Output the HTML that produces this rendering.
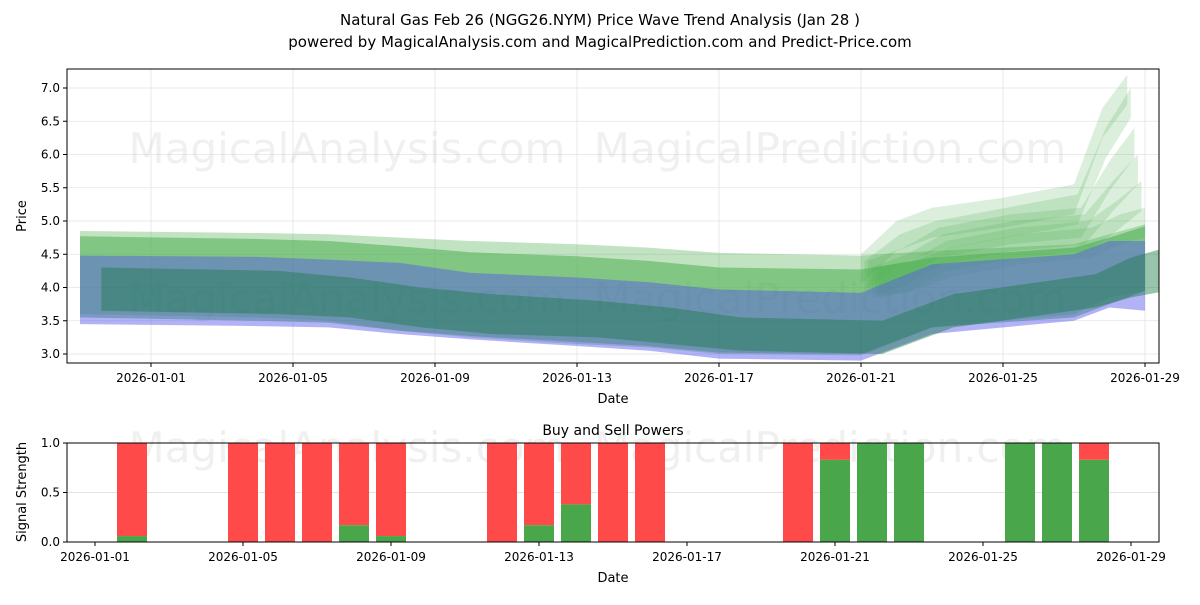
<!DOCTYPE html>
<html><head><meta charset="utf-8"><style>
body{margin:0;background:#fff;font-family:"Liberation Sans","DejaVu Sans",sans-serif}
svg text{font-family:"DejaVu Sans","Liberation Sans",sans-serif}
</style></head><body>
<svg id="c" width="1200" height="600" xmlns="http://www.w3.org/2000/svg">
<defs><clipPath id="plotclip"><rect x="67" y="69" width="1092" height="294"/></clipPath></defs>
<rect width="1200" height="600" fill="#fff"/>
<text x="600" y="25" font-size="15" text-anchor="middle">Natural Gas Feb 26 (NGG26.NYM) Price Wave Trend Analysis (Jan 28 )</text>
<text x="600" y="47" font-size="15" text-anchor="middle">powered by MagicalAnalysis.com and MagicalPrediction.com and Predict-Price.com</text>
<g id="topg"></g><g id="bandg" clip-path="url(#plotclip)"></g><g id="frameg"></g><g id="botg"></g>
</svg>
<script>
// ---- data (day offsets from 2026-01-01) ----
const xTickDays=[0,4,8,12,16,20,24,28];
const xTickLabels=["2026-01-01","2026-01-05","2026-01-09","2026-01-13","2026-01-17","2026-01-21","2026-01-25","2026-01-29"];
const yTicks=[3.0,3.5,4.0,4.5,5.0,5.5,6.0,6.5,7.0];
const bandDays=[-2,3,5,7,9,12,14,16,20,22,26,27,28];
const lightGreenUpper=[4.85,4.82,4.8,4.75,4.7,4.65,4.6,4.52,4.48,4.55,4.65,4.8,4.95];
const lightGreenLower=[3.6,3.55,3.5,3.35,3.25,3.15,3.1,3.0,2.98,3.4,3.6,3.85,3.95];
const greenUpper=[4.77,4.73,4.7,4.62,4.53,4.47,4.4,4.3,4.27,4.45,4.6,4.75,4.92];
const greenLower=[3.55,3.5,3.47,3.35,3.27,3.18,3.12,3.02,3.0,3.4,3.55,3.75,3.95];
const blueUpper=[4.48,4.46,4.42,4.37,4.22,4.15,4.08,3.97,3.92,4.35,4.5,4.7,4.7];
const blueLower=[3.45,3.42,3.4,3.3,3.22,3.12,3.05,2.93,2.9,3.3,3.5,3.7,3.65];
const darkUpper=[4.3,4.25,4.15,4.0,3.9,3.8,3.7,3.55,3.5,3.9,4.2,4.45,4.6];
const darkLower=[3.65,3.6,3.55,3.4,3.3,3.25,3.15,3.05,3.0,3.4,3.7,3.85,3.95];
const spikeDays=[20,21,22,24,26,26.8,27.5];
const spikeTops=[[4.5,5.0,5.2,5.35,5.55,6.7,7.2],[4.4,4.8,5.0,5.2,5.4,6.4,7.0],[4.4,4.6,4.9,5.1,5.2,5.9,6.4],[4.3,4.5,4.8,5.0,5.1,5.6,6.0],[4.3,4.4,4.7,4.9,5.0,5.3,5.6],[4.3,4.4,4.6,4.8,4.9,5.1,5.2]];
const barDays=[1,4,5,6,7,8,11,12,13,14,15,19,20,21,22,25,26,27];
const buyPower=[0.06,0,0,0,0.17,0.06,0,0.17,0.38,0,0,0,0.83,1,1,1,1,0.83];
// ---- axes ----
const tx=d=>151+d*35.5, ty=v=>354-(v-3)*66.5;
const bx=d=>95+d*37, by=v=>542-v*99;
const NS="http://www.w3.org/2000/svg";
function mk(p,tag,at){const e=document.createElementNS(NS,tag);for(const k in at)e.setAttribute(k,at[k]);p.appendChild(e);return e;}
const topG=document.getElementById('topg'), bandG=document.getElementById('bandg'), frameG=document.getElementById('frameg'), botG=document.getElementById('botg');
xTickDays.forEach((d,i)=>{
 const l=mk(topG,'line',{x1:tx(d),x2:tx(d),y1:69,y2:363,stroke:'#e3e3e3','stroke-width':0.8});
 
 
 mk(frameG,'line',{x1:tx(d),x2:tx(d),y1:363,y2:367,stroke:'#000'});
 const t=mk(frameG,'text',{x:tx(d),y:382,'font-size':12,'text-anchor':'middle'});t.textContent=xTickLabels[i];
 
 
});
yTicks.forEach(v=>{
 const l=mk(topG,'line',{x1:67,x2:1159,y1:ty(v),y2:ty(v),stroke:'#e3e3e3','stroke-width':0.8});
 
 
 mk(frameG,'line',{x1:63,x2:67,y1:ty(v),y2:ty(v),stroke:'#000'});
 const t=mk(frameG,'text',{x:60,y:ty(v)+4,'font-size':12,'text-anchor':'end'});t.textContent=v.toFixed(1);
 
 
});
[[347,163,'MagicalAnalysis.com'],[830,163,'MagicalPrediction.com'],[347,313,'MagicalAnalysis.com'],[830,313,'MagicalPrediction.com'],[347,462,'MagicalAnalysis.com'],[830,462,'MagicalPrediction.com']].forEach(w=>{
 const t=mk(topG,'text',{x:w[0],y:w[1],'font-size':42,'text-anchor':'middle',fill:'#ccc','fill-opacity':0.3});t.textContent=w[2];
 
 
});
function band(days,up,lo,fill,op,name,shift){
 let p=days.map((d,i)=>tx(d+shift)+','+ty(up[i]));
 p=p.concat(days.map((d,i)=>tx(d+shift)+','+ty(lo[i])).reverse());
 const e=mk(bandG,'polygon',{points:p.join(' '),fill:fill,'fill-opacity':op});
 
 
}
band(bandDays,lightGreenUpper,lightGreenLower,'#4caf50',0.35,'light-green-band',0);
spikeTops.forEach((s,k)=>{const lo=s.map(v=>v-0.45);band(spikeDays,s,lo,'#4caf50',0.2,'forecast-spike-band',0.1*k);});
band(bandDays,greenUpper,greenLower,'#4caf50',0.55,'green-band',0);
band(bandDays,blueUpper,blueLower,'#5555ee',0.45,'blue-band',0);
band(bandDays,darkUpper,darkLower,'#1b7a4a',0.45,'dark-green-band',0.6);
mk(frameG,'rect',{x:67,y:69,width:1092,height:294,fill:'none',stroke:'#000'});
let t=mk(frameG,'text',{x:613,y:403,'font-size':13,'text-anchor':'middle'});t.textContent='Date';


t=mk(frameG,'text',{x:26,y:216,'font-size':13,'text-anchor':'middle',transform:'rotate(-90 26 216)'});t.textContent='Price';


mk(botG,'line',{x1:67,x2:1159,y1:by(0.5),y2:by(0.5),stroke:'#e3e3e3'});
barDays.forEach((d,i)=>{
 const b=buyPower[i];
 const r=mk(botG,'rect',{x:bx(d)-15,y:by(1),width:30,height:(1-b)*99,fill:'#ff4a4a'});
 
 
 if(b>0){const g=mk(botG,'rect',{x:bx(d)-15,y:by(b),width:30,height:b*99,fill:'#4aa64a'});
 
 }
});
xTickDays.forEach((d,i)=>{
 mk(botG,'line',{x1:bx(d),x2:bx(d),y1:542,y2:546,stroke:'#000'});
 const t=mk(botG,'text',{x:bx(d),y:561,'font-size':12,'text-anchor':'middle'});t.textContent=xTickLabels[i];
 
 
});
[0,0.5,1].forEach(v=>{mk(botG,'line',{x1:63,x2:67,y1:by(v),y2:by(v),stroke:'#000'});
 const t=mk(botG,'text',{x:60,y:by(v)+4,'font-size':12,'text-anchor':'end'});t.textContent=v.toFixed(1);
 
 });
mk(botG,'rect',{x:67,y:443,width:1092,height:99,fill:'none',stroke:'#000'});
t=mk(botG,'text',{x:613,y:435,'font-size':14,'text-anchor':'middle'});t.textContent='Buy and Sell Powers';


t=mk(botG,'text',{x:613,y:582,'font-size':13,'text-anchor':'middle'});t.textContent='Date';


t=mk(botG,'text',{x:26,y:492,'font-size':13,'text-anchor':'middle',transform:'rotate(-90 26 492)'});t.textContent='Signal Strength';


</script>
</body></html>
